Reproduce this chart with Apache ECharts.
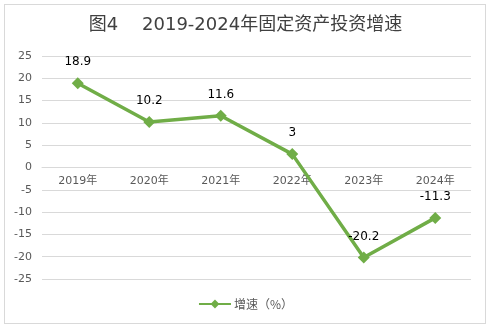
<!DOCTYPE html>
<html>
<head>
<meta charset="utf-8">
<script src="https://cdn.jsdelivr.net/npm/echarts@6/dist/echarts.min.js"></script>
<style>
  html, body { margin: 0; padding: 0; background: #fff; }
  #frame { position: absolute; left: 4px; top: 4px; width: 482px; height: 320px; border: 1px solid #d9d9d9; box-sizing: border-box; }
  #chart { position: absolute; left: 0; top: 0; width: 491px; height: 329px; }
</style>
</head>
<body>
<div id="frame"></div>
<div id="chart"></div>
<script>
// 固定资产投资增速（%）
const years = ['2019年', '2020年', '2021年', '2022年', '2023年', '2024年'];
const growth = [18.9, 10.2, 11.6, 3, -20.2, -11.3];
const seriesName = '增速（%）';
const titleText = '图4\u3000 2019-2024年固定资产投资增速';

const gridTop = 56, gridBottom = 50;
const chartH = 329;
// category labels sit just under the zero line (middle of the -25..25 range)
const zeroOffset = -((chartH - gridBottom - gridTop) / 2);

const chart = echarts.init(document.getElementById('chart'), null, { renderer: 'canvas' });
chart.setOption({
  backgroundColor: 'transparent',
  animation: false,
  title: {
    text: titleText,
    left: 'center',
    top: 11,
    textStyle: { fontFamily: 'DejaVu Sans, Noto Sans CJK SC', fontSize: 18, fontWeight: 'normal', color: '#404040' }
  },
  legend: {
    bottom: 14,
    left: 'center',
    itemWidth: 32,
    itemHeight: 11,
    itemGap: 4,
    textStyle: { fontFamily: '"Noto Sans CJK SC"', fontSize: 12, color: '#595959', padding: [0, 0, 0, -2] },
    data: [seriesName]
  },
  grid: { left: 42, right: 20, top: gridTop, bottom: gridBottom, containLabel: false },
  xAxis: {
    type: 'category',
    data: years,
    boundaryGap: true,
    position: 'bottom',
    offset: zeroOffset,
    axisLine: { show: true, onZero: false, lineStyle: { color: '#d9d9d9' } },
    axisTick: { show: false },
    axisLabel: { color: '#595959', fontFamily: 'DejaVu Sans, Noto Sans CJK SC', fontSize: 11, margin: 8 }
  },
  yAxis: {
    type: 'value',
    min: -25,
    max: 25,
    interval: 5,
    axisLine: { show: false },
    axisTick: { show: false },
    splitLine: { lineStyle: { color: '#d9d9d9' } },
    axisLabel: { color: '#595959', fontFamily: 'DejaVu Sans', fontSize: 11, margin: 10 }
  },
  series: [{
    name: seriesName,
    type: 'line',
    data: growth,
    symbol: 'diamond',
    symbolSize: 12,
    lineStyle: { color: '#70ad47', width: 3.5 },
    itemStyle: { color: '#70ad47' },
    label: {
      show: true,
      position: 'top',
      distance: 9,
      color: '#000',
      fontFamily: 'DejaVu Sans',
      fontSize: 12
    }
  }]
});
</script>
</body>
</html>
